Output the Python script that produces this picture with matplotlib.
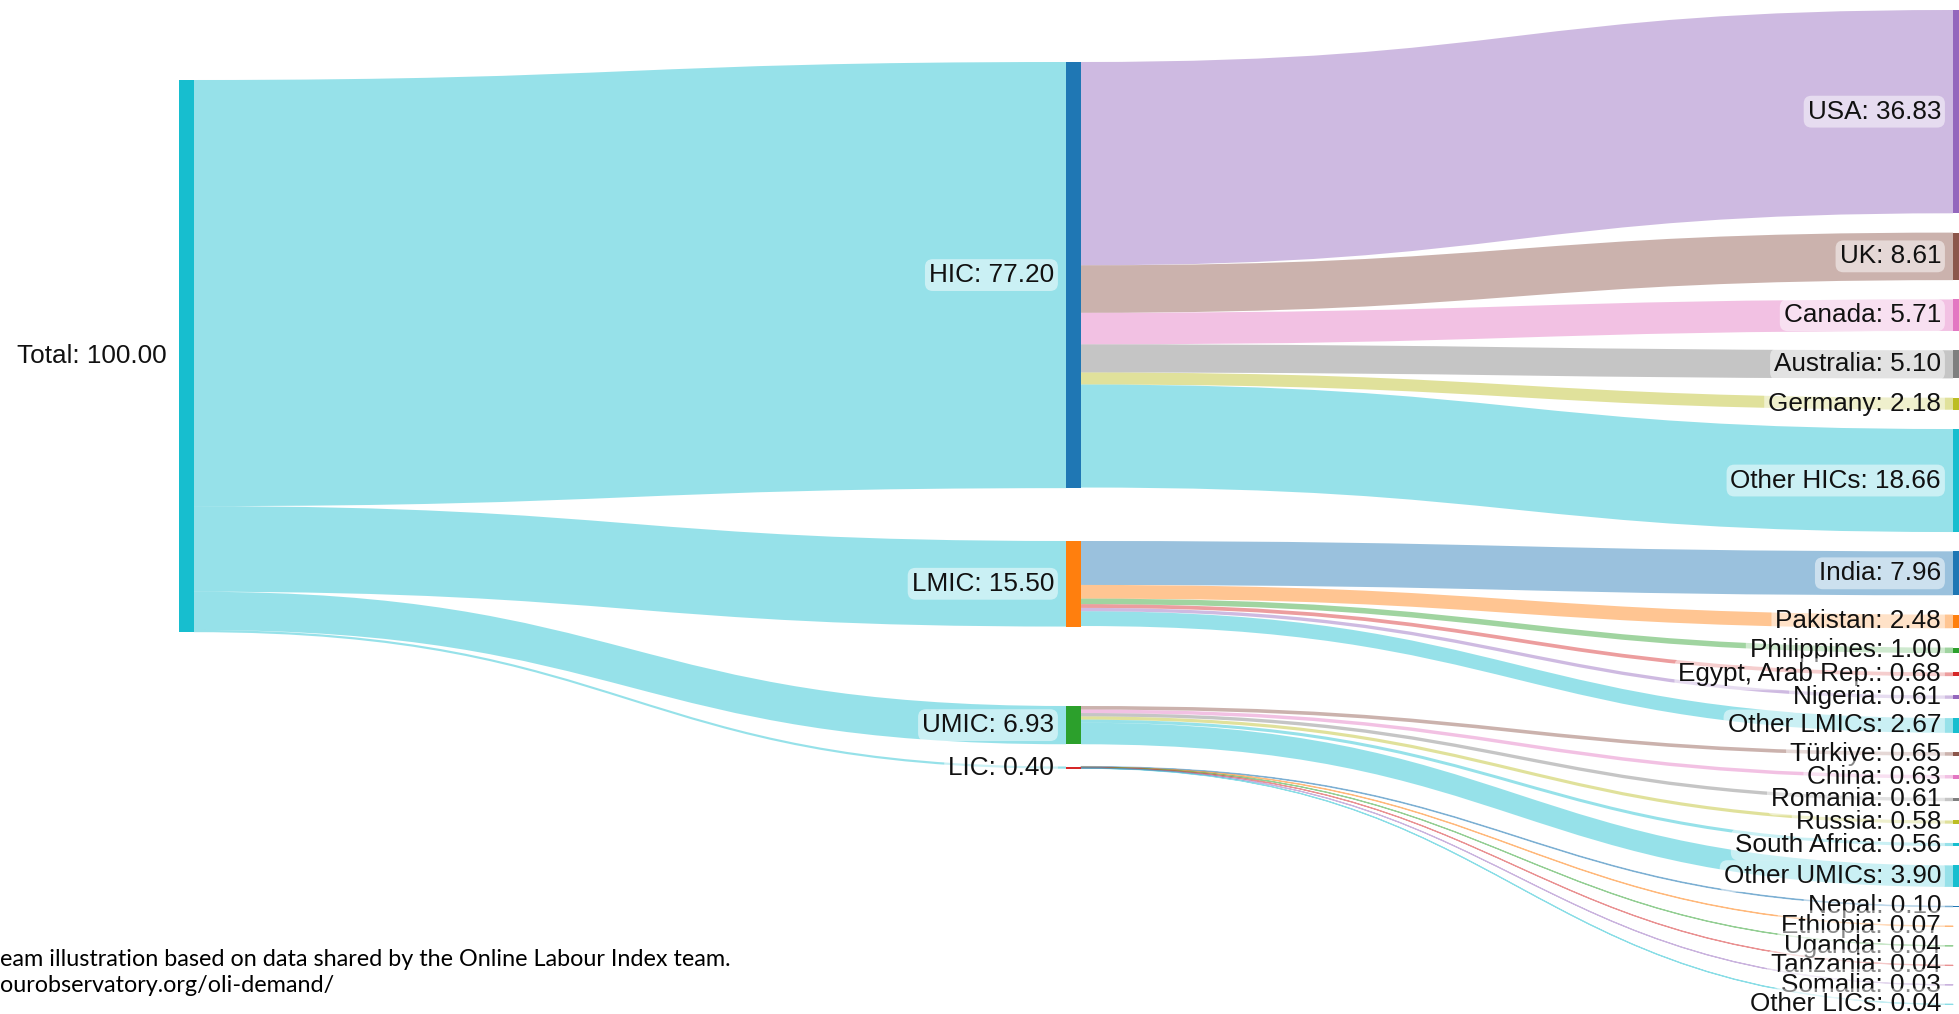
import matplotlib
matplotlib.use('Agg')
import matplotlib.pyplot as plt
from matplotlib.path import Path
from matplotlib.patches import PathPatch, Rectangle
import numpy as np

# data (share of online labour demand, %)
total_name = 'Total'
total_value = 100.00

group_names = ['HIC', 'LMIC', 'UMIC', 'LIC']
group_values = [77.20, 15.50, 6.93, 0.40]

hic_names = ['USA', 'UK', 'Canada', 'Australia', 'Germany', 'Other HICs']
hic_values = [36.83, 8.61, 5.71, 5.10, 2.18, 18.66]
lmic_names = ['India', 'Pakistan', 'Philippines', 'Egypt, Arab Rep.', 'Nigeria', 'Other LMICs']
lmic_values = [7.96, 2.48, 1.00, 0.68, 0.61, 2.67]
umic_names = ['Türkiye', 'China', 'Romania', 'Russia', 'South Africa', 'Other UMICs']
umic_values = [0.65, 0.63, 0.61, 0.58, 0.56, 3.90]
lic_names = ['Nepal', 'Ethiopia', 'Uganda', 'Tanzania', 'Somalia', 'Other LICs']
lic_values = [0.10, 0.07, 0.04, 0.04, 0.03, 0.04]

country_names = [hic_names, lmic_names, umic_names, lic_names]
country_values = [hic_values, lmic_values, umic_values, lic_values]

# colours (d3 category10)
total_color = '#17becf'
group_colors = ['#1f77b4', '#ff7f0e', '#2ca02c', '#d62728']
country_colors = [
    ['#9467bd', '#8c564b', '#e377c2', '#7f7f7f', '#bcbd22', '#17becf'],
    ['#1f77b4', '#ff7f0e', '#2ca02c', '#d62728', '#9467bd', '#17becf'],
    ['#8c564b', '#e377c2', '#7f7f7f', '#bcbd22', '#17becf', '#17becf'],
    ['#1f77b4', '#ff7f0e', '#2ca02c', '#d62728', '#9467bd', '#17becf'],
]

# layout (pixels)
W, H = 1959, 1014
k = 5.52            # px per unit
node_w = 15
col_x = [179, 1066, 1953]
total_top = 80
mid_tops = [62, 541, 706, 766.5]
right_top = 10
right_gap = 19.3

FONT = ['Liberation Sans', 'DejaVu Sans']

fig = plt.figure(figsize=(W / 100, H / 100), dpi=100)
ax = fig.add_axes([0, 0, 1, 1])
ax.set_xlim(0, W)
ax.set_ylim(H, 0)
ax.axis('off')


def link(x0, y0a, y0b, x1, y1a, y1b, color):
    xm = (x0 + x1) / 2
    verts = [(x0, y0a), (xm, y0a), (xm, y1a), (x1, y1a), (x1, y1b),
             (xm, y1b), (xm, y0b), (x0, y0b), (x0, y0a)]
    codes = [Path.MOVETO, Path.CURVE4, Path.CURVE4, Path.CURVE4, Path.LINETO,
             Path.CURVE4, Path.CURVE4, Path.CURVE4, Path.CLOSEPOLY]
    thin = (y0b - y0a) < 2
    ax.add_patch(PathPatch(Path(verts, codes), fc=color, alpha=0.45,
                           ec=color if thin else 'none', lw=0.8 if thin else 0,
                           zorder=1))


def node(x, top, h, color):
    ax.add_patch(Rectangle((x, top), node_w, h, fc=color, ec='none', zorder=3))


def label(x, yc, name, value):
    ax.text(x - 12, yc, f'{name}: {value:.2f}', ha='right', va='center',
            fontsize=18.8, family=FONT, color='#111111', zorder=5,
            bbox=dict(boxstyle='round,pad=0.15,rounding_size=0.3', fc='white',
                      ec='none', alpha=0.5))


# total node
total_h = k * sum(group_values)
node(col_x[0], total_top, total_h, total_color)
label(col_x[0], total_top + total_h / 2, total_name, total_value)

y_out = total_top
y_right = right_top
for i, g in enumerate(group_names):
    gv = group_values[i]
    gh = k * max(gv, sum(country_values[i]))
    top = mid_tops[i]
    # total -> group
    link(col_x[0] + node_w, y_out, y_out + k * gv, col_x[1], top, top + k * gv, total_color)
    y_out += k * gv
    node(col_x[1], top, gh, group_colors[i])
    label(col_x[1], top + gh / 2, g, gv)

    # group -> country
    y_mid = top
    for name, v, c in zip(country_names[i], country_values[i], country_colors[i]):
        h = k * v
        link(col_x[1] + node_w, y_mid, y_mid + h, col_x[2], y_right, y_right + h, c)
        node(col_x[2], y_right, h, c)
        label(col_x[2], y_right + h / 2, name, v)
        y_mid += h
        y_right += h + right_gap

# source note (cut at the left edge like the original)
ax.text(0, 966, 'eam illustration based on data shared by the Online Labour Index team.',
        ha='left', va='baseline', fontsize=16.8, family=['Lato', 'DejaVu Sans'], color='black')
ax.text(0, 992, 'ourobservatory.org/oli-demand/',
        ha='left', va='baseline', fontsize=16.8, family=['Lato', 'DejaVu Sans'], color='black')

fig.savefig('out.png', dpi=100)
